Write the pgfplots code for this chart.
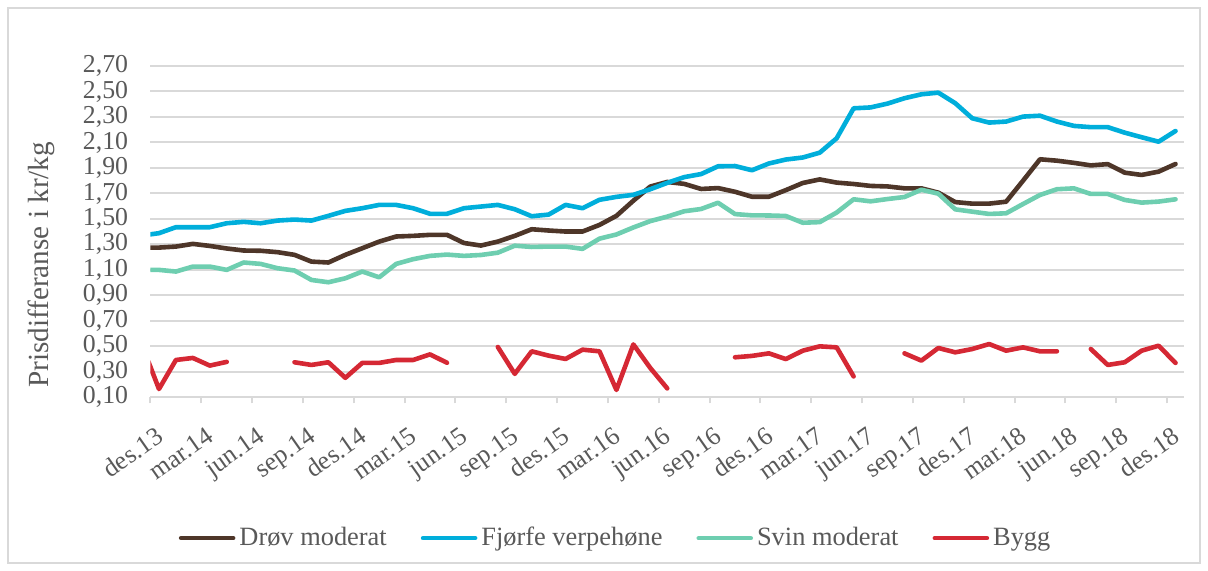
\documentclass[border=0pt]{standalone}
\usepackage{fontspec}
\setmainfont{Liberation Serif}
\usepackage{pgfplots}
\usepackage{pgfplotstable}
\pgfplotsset{compat=1.18}

\definecolor{drov}{RGB}{78,54,41}
\definecolor{fjorfe}{RGB}{0,174,219}
\definecolor{svin}{RGB}{110,206,176}
\definecolor{bygg}{RGB}{213,40,52}
\definecolor{txt}{RGB}{89,89,89}
\definecolor{gridc}{RGB}{217,217,217}

% month index: 0 = des.13 ... 60 = des.18 (-1 = nov.13, clipped)
\pgfplotstableread{
i  drov  fjorfe svin  bygg
-1 1.275 1.370 1.100 0.510
0  1.275 1.388 1.100 0.165
1  1.283 1.435 1.087 0.393
2  1.304 1.435 1.126 0.409
3  1.288 1.435 1.126 0.349
4  1.268 1.466 1.100 0.378
5  1.252 1.477 1.158 nan
6  1.250 1.466 1.147 nan
7  1.239 1.487 1.113 nan
8  1.218 1.495 1.095 0.375
9  1.165 1.487 1.021 0.354
10 1.158 1.524 1.003 0.375
11 1.218 1.563 1.034 0.253
12 1.270 1.584 1.087 0.370
13 1.322 1.610 1.042 0.370
14 1.362 1.610 1.147 0.393
15 1.367 1.584 1.184 0.393
16 1.375 1.540 1.210 0.437
17 1.375 1.540 1.220 0.371
18 1.311 1.584 1.210 nan
19 1.291 1.597 1.217 nan
20 1.322 1.610 1.235 0.495
21 1.367 1.576 1.290 0.284
22 1.419 1.521 1.280 0.461
23 1.409 1.534 1.283 0.427
24 1.401 1.610 1.283 0.401
25 1.401 1.584 1.265 0.474
26 1.453 1.650 1.345 0.461
27 1.524 1.673 1.378 0.158
28 1.643 1.689 1.433 0.515
29 1.754 1.733 1.483 0.330
30 1.790 1.783 1.518 0.170
31 1.775 1.828 1.560 nan
32 1.735 1.852 1.578 nan
33 1.742 1.913 1.627 nan
34 1.713 1.915 1.538 0.414
35 1.674 1.882 1.528 0.425
36 1.674 1.935 1.527 0.445
37 1.726 1.966 1.523 0.400
38 1.782 1.982 1.470 0.466
39 1.810 2.020 1.475 0.500
40 1.785 2.133 1.550 0.492
41 1.774 2.368 1.654 0.264
42 1.759 2.375 1.638 nan
43 1.755 2.405 1.656 nan
44 1.740 2.447 1.672 0.445
45 1.740 2.478 1.729 0.388
46 1.706 2.491 1.698 0.487
47 1.632 2.408 1.575 0.453
48 1.620 2.290 1.557 0.479
49 1.620 2.256 1.539 0.518
50 1.635 2.264 1.544 0.466
51 1.800 2.303 1.617 0.492
52 1.968 2.310 1.688 0.461
53 1.957 2.264 1.733 0.461
54 1.940 2.230 1.740 nan
55 1.920 2.220 1.696 0.479
56 1.930 2.220 1.696 0.354
57 1.863 2.177 1.649 0.375
58 1.845 2.141 1.628 0.466
59 1.871 2.106 1.636 0.505
60 1.931 2.190 1.654 0.370
}\prisdata

\begin{document}
\begin{tikzpicture}
\useasboundingbox (-75.25pt,-86.35pt) rectangle (528.75pt,198.65pt);
\draw[gridc, line width=0.6pt] (-71.25pt,-82.85pt) rectangle (524.75pt,194.65pt);
\begin{axis}[
  at={(0pt,0pt)}, anchor=south west,
  scale only axis, width=516.75pt, height=165.65pt,
  xmin=-0.5, xmax=60.5, ymin=0.1, ymax=2.7,
  axis line style={draw=none},
  ytick={0.1,0.3,0.5,0.7,0.9,1.1,1.3,1.5,1.7,1.9,2.1,2.3,2.5,2.7},
  ymajorgrids=true,
  grid style={gridc, line width=1pt},
  ytick style={draw=none},
  yticklabel style={/pgf/number format/fixed, /pgf/number format/fixed zerofill,
    /pgf/number format/precision=2, /pgf/number format/use comma,
    /pgf/number format/assume math mode=true,
    font=\fontsize{12.9}{14}\selectfont, text=txt, inner sep=0pt, anchor=east, xshift=-8pt},
  xtick={-0.5,2.5,5.5,8.5,11.5,14.5,17.5,20.5,23.5,26.5,29.5,32.5,35.5,38.5,41.5,44.5,47.5,50.5,53.5,56.5,59.5},
  xticklabels={des.13,mar.14,jun.14,sep.14,des.14,mar.15,jun.15,sep.15,des.15,mar.16,jun.16,sep.16,des.16,mar.17,jun.17,sep.17,des.17,mar.18,jun.18,sep.18,des.18},
  xtick pos=bottom, tick align=outside, major tick length=3pt,
  xtick style={gridc, line width=1pt},
  xticklabel style={xshift=2pt, yshift=-11pt, rotate=35, anchor=north east,
    font=\fontsize{12.9}{14}\selectfont, text=txt, inner sep=0pt},
  ylabel={Prisdifferanse i kr/kg},
  ylabel style={at={(axis description cs:-0.092,0.40)}, anchor=south, rotate=0,
    font=\fontsize{14.6}{16}\selectfont, text=txt, inner sep=0pt},
  unbounded coords=jump,
  legend columns=4,
  legend style={at={(axis description cs:0.451,-0.425)}, anchor=center,
    draw=none, fill=none, font=\fontsize{13.2}{15}\selectfont, text=txt,
    /tikz/every even column/.append style={column sep=15pt},
    nodes={inner sep=2pt}},
  legend image code/.code={\draw[#1, line cap=round] (0pt,0pt) -- (26pt,0pt);},
  every axis plot/.append style={line width=2.3pt, line join=round, line cap=round},
]
\addplot[drov] table[x=i, y=drov]{\prisdata};
\addlegendentry{Drøv moderat}
\addplot[fjorfe] table[x=i, y=fjorfe]{\prisdata};
\addlegendentry{Fjørfe verpehøne}
\addplot[svin] table[x=i, y=svin]{\prisdata};
\addlegendentry{Svin moderat}
\addplot[bygg] table[x=i, y=bygg]{\prisdata};
\addlegendentry{Bygg}
\end{axis}
\end{tikzpicture}
\end{document}
